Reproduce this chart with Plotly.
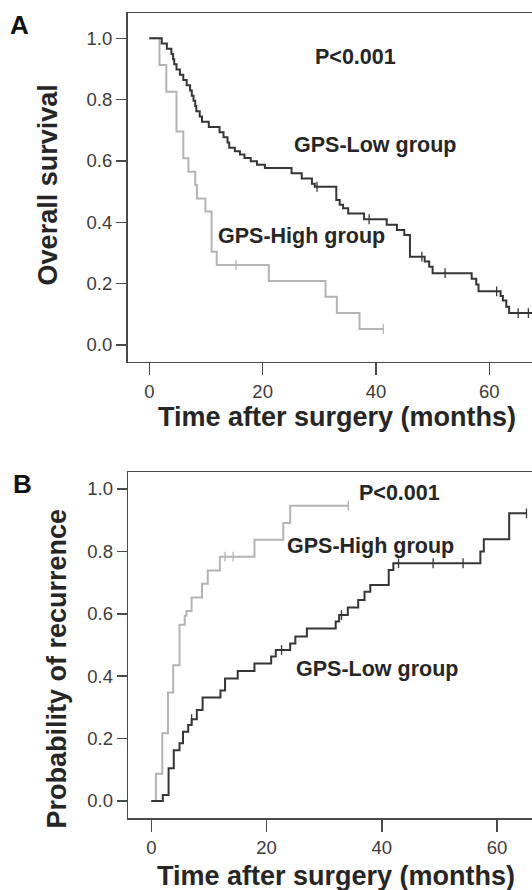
import plotly.graph_objects as go

# ---------------- Data ----------------
# Panel A: overall survival (Kaplan-Meier)
a_low_t = [0, 2.2, 3.1, 3.9, 4.2, 4.4, 4.8, 5.4, 6.0, 6.6, 7.2, 7.5, 7.8, 8.1, 8.3, 8.9, 9.3,
           10.5, 12.4, 13.1, 13.8, 14.1, 15.1, 16.0, 16.8, 17.9, 19.0, 20.4, 25.1, 26.9, 28.7,
           29.2, 33.0, 33.6, 34.2, 35.1, 37.9, 41.9, 43.7, 45.0, 46.0, 48.6, 49.4, 50.0, 56.9,
           57.7, 58.1, 62.0, 62.4, 63.0, 63.5]
a_low_s = [1.0, 0.983, 0.966, 0.949, 0.932, 0.915, 0.898, 0.881, 0.864, 0.847, 0.830, 0.813,
           0.796, 0.779, 0.762, 0.745, 0.728, 0.711, 0.694, 0.677, 0.660, 0.643, 0.632, 0.621,
           0.610, 0.599, 0.588, 0.577, 0.560, 0.543, 0.526, 0.516, 0.473, 0.457, 0.446, 0.429,
           0.410, 0.392, 0.375, 0.359, 0.288, 0.272, 0.255, 0.234, 0.216, 0.197, 0.175, 0.160,
           0.145, 0.125, 0.104]
a_low_end = 67.6
a_low_censor = [29.6, 38.8, 48.1, 52.2, 61.3, 65.1, 66.9]

a_high_t = [0, 1.8, 3.0, 4.8, 6.0, 6.9, 8.1, 8.4, 9.9, 11.0, 11.9, 21.1, 31.1, 33.1, 37.1]
a_high_s = [1.0, 0.913, 0.826, 0.696, 0.609, 0.565, 0.522, 0.478, 0.435, 0.304, 0.261,
            0.209, 0.157, 0.104, 0.052]
a_high_end = 41.3
a_high_censor = [15.3, 41.3]

# Panel B: probability of recurrence
b_low_t = [0, 2.0, 3.0, 3.9, 4.9, 5.5, 6.4, 7.0, 7.9, 8.9, 12.0, 12.8, 15.0, 17.9, 20.8, 21.6,
           24.1, 25.0, 27.0, 32.0, 32.6, 34.1, 35.9, 37.0, 38.0, 41.2, 42.0, 57.1, 57.7, 62.1]
b_low_r = [0.0, 0.019, 0.105, 0.163, 0.185, 0.222, 0.244, 0.262, 0.292, 0.332, 0.354, 0.393,
           0.417, 0.441, 0.463, 0.484, 0.505, 0.527, 0.553, 0.575, 0.596, 0.620, 0.644, 0.671,
           0.692, 0.740, 0.762, 0.800, 0.839, 0.922]
b_low_end = 65.1
b_low_censor = [7.0, 22.6, 33.0, 42.9, 48.9, 54.1, 65.1]

b_high_t = [0, 0.8, 1.9, 2.9, 3.8, 4.9, 5.8, 6.1, 7.0, 8.8, 9.8, 11.9, 17.9, 22.9, 24.1]
b_high_r = [0.0, 0.087, 0.217, 0.348, 0.435, 0.565, 0.594, 0.609, 0.652, 0.696, 0.739, 0.783,
            0.837, 0.891, 0.946]
b_high_end = 34.2
b_high_censor = [12.8, 14.2, 34.2]

y_ticks = [0.0, 0.2, 0.4, 0.6, 0.8, 1.0]
x_ticks = [0, 20, 40, 60]

# ---------------- Styling ----------------
W, H = 532, 890
DARK = "#363636"
LIGHT = "#b4b4b4"
AXIS = "#4a4a4a"
TEXT = "#262626"
FONT = "Liberation Sans"


def px_x(p):
    return p / W


def px_y(p):
    return 1 - p / H


def step_value(ts, vs, t):
    v = vs[0]
    for ti, vi in zip(ts, vs):
        if ti <= t:
            v = vi
    return v


fig = go.Figure()


def add_curve(ts, vs, end, cens, color, xa, ya):
    xs = list(ts) + [end]
    ys = list(vs) + [vs[-1]]
    fig.add_trace(go.Scatter(x=xs, y=ys, mode="lines", line=dict(color=color, width=2, shape="hv"),
                             xaxis=xa, yaxis=ya, showlegend=False, hoverinfo="skip"))
    fig.add_trace(go.Scatter(x=cens, y=[step_value(ts, vs, c) for c in cens], mode="markers",
                             marker=dict(symbol="line-ns-open", size=7, color=color,
                                         line=dict(color=color, width=1.3)),
                             xaxis=xa, yaxis=ya, showlegend=False, hoverinfo="skip"))


add_curve(a_high_t, a_high_s, a_high_end, a_high_censor, LIGHT, "x", "y")
add_curve(a_low_t, a_low_s, a_low_end, a_low_censor, DARK, "x", "y")
add_curve(b_high_t, b_high_r, b_high_end, b_high_censor, LIGHT, "x2", "y2")
add_curve(b_low_t, b_low_r, b_low_end, b_low_censor, DARK, "x2", "y2")

xcommon = dict(tickvals=x_ticks, ticks="outside", ticklen=12, tickwidth=1.5, tickcolor=AXIS,
               showline=True, linecolor=AXIS, linewidth=1.6, mirror=True, showgrid=False,
               zeroline=False, tickfont=dict(family=FONT, size=18.5, color="#3c3c3c"))
ycommon = dict(tickvals=y_ticks, tickformat=".1f", ticks="outside", ticklen=10, tickwidth=1.5,
               tickcolor=AXIS, showline=True, linecolor=AXIS, linewidth=1.6, mirror=False,
               showgrid=False, zeroline=False,
               tickfont=dict(family=FONT, size=18.5, color="#3c3c3c"))

fig.update_layout(
    width=W, height=H, margin=dict(l=0, r=0, t=0, b=0),
    paper_bgcolor="white", plot_bgcolor="white", showlegend=False,
    xaxis=dict(domain=[px_x(127.6), 1], range=[-3.83, 67.54], anchor="y", **xcommon),
    yaxis=dict(domain=[px_y(361.7), px_y(13.3)], range=[-0.0545, 1.0815], anchor="x", **ycommon),
    xaxis2=dict(domain=[px_x(128.3), 1], range=[-3.99, 66.06], anchor="y2", **xcommon),
    yaxis2=dict(domain=[px_y(818.3), px_y(472.3)], range=[-0.0554, 1.0535], anchor="x2", **ycommon),
)


def ann(text, x, y, size, angle=0, color=TEXT):
    fig.add_annotation(text=text, x=px_x(x), y=px_y(y), xref="paper", yref="paper",
                       xanchor="center", yanchor="middle", showarrow=False, textangle=angle,
                       font=dict(family=FONT, size=size, color=color))


# panel letters
ann("<b>A</b>", 19.5, 25, 26, color="#111111")
ann("<b>B</b>", 22, 484, 26, color="#111111")
# axis titles
ann("<b>Overall survival</b>", 48.4, 185, 27, angle=-90)
ann("<b>Time after surgery (months)</b>", 336.8, 416.5, 27)
ann("<b>Probability of recurrence</b>", 56, 668.5, 27, angle=-90)
ann("<b>Time after surgery (months)</b>", 336, 876, 27)
# in-plot labels
ann("<b>P<0.001</b>", 355.5, 56.7, 21.5)
ann("<b>GPS-Low group</b>", 375, 145, 21.5)
ann("<b>GPS-High group</b>", 301, 236, 21.5)
ann("<b>P<0.001</b>", 399.5, 493.3, 21.5)
ann("<b>GPS-High group</b>", 370, 546, 21.5)
ann("<b>GPS-Low group</b>", 376.7, 669, 21.5)

fig.write_html("out.html", config={"displayModeBar": False, "staticPlot": True},
               post_script="document.body.style.margin='0';document.body.style.overflow='hidden';")
